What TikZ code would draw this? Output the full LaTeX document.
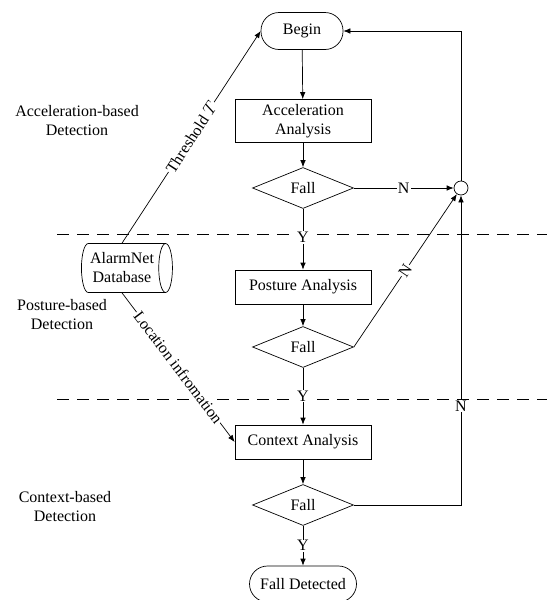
\documentclass[tikz,border=0pt]{standalone}
\usepackage{fontspec}
\setmainfont{Liberation Serif}
\usetikzlibrary{shapes.geometric,arrows.meta}

\begin{document}
\begin{tikzpicture}[
    x=1pt, y=-1pt,
    >={Latex[length=7pt,width=5.5pt]},
    line width=0.7pt,
    font=\fontsize{16}{19}\selectfont,
    terminal/.style={rectangle, draw, rounded corners=18pt, minimum width=82pt, minimum height=37pt},
    process/.style={rectangle, draw, minimum width=136pt, minimum height=34pt, align=center},
    decision/.style={diamond, draw, minimum width=101pt, minimum height=41pt, inner sep=0pt, aspect=2.5},
    junction/.style={circle, draw, minimum size=14pt, inner sep=0pt},
    database/.style={cylinder, draw, shape aspect=0.4, minimum width=49pt, minimum height=91pt, align=center, inner sep=2pt},
    stage/.style={align=center},
    lbl/.style={fill=white, inner sep=1pt},
    boundary/.style={dash pattern=on 12pt off 8pt}
]
\useasboundingbox (0,0) rectangle (547,600);

\node[terminal] (begin) at (302,31) {Begin};
\node[process, minimum height=43pt] (accel) at (303,121) {Acceleration\\Analysis};
\node[decision] (fall1) at (303,188) {Fall};
\node[junction] (merge) at (461,188) {};
\node[process] (posture) at (303,287) {Posture Analysis};
\node[decision] (fall2) at (303,347) {Fall};
\node[process] (context) at (303,442) {Context Analysis};
\node[decision] (fall3) at (303,505) {Fall};
\node[terminal, minimum width=107pt, minimum height=36pt] (detected) at (303,584) {Fall Detected};
\node[database] (db) at (122,268) {AlarmNet\\Database};

\node[stage] (accstage) at (77,121) {Acceleration-based\\Detection};
\node[stage] (posstage) at (62,315) {Posture-based\\Detection};
\node[stage] (ctxstage) at (65,507) {Context-based\\Detection};

% stage boundaries
\coordinate (b1w) at (57,234);
\coordinate (b1e) at (547,234);
\coordinate (b2w) at (57,399);
\coordinate (b2e) at (547,399);
\draw[boundary] (b1w) -- (b1e);
\draw[boundary] (b2w) -- (b2e);

% flow
\draw[->] (begin) -- (accel);
\draw[->] (accel) -- (fall1);
\draw[->] (fall1) -- (merge) node[midway, lbl] {N};
\draw[->] (merge.north) |- (begin.east);
\draw[->] (fall1) -- (posture) node[pos=0.47, lbl] {Y};
\draw[->] (posture) -- (fall2);
\draw[->] (fall2.east) -- (merge) node[midway, sloped, lbl] {N};
\draw[->] (fall2) -- (context) node[midway, lbl] {Y};
\draw[->] (context) -- (fall3);
\draw[->] (fall3.east) -| (merge.south) node[pos=0.66, lbl] {N};
\draw[->] (fall3) -- (detected) node[midway, lbl] {Y};

% database links
\draw[->] (db.north) -- (begin.west) node[midway, sloped, lbl] {Threshold $T$};
\draw[->] (db.south) -- (context.west) node[midway, sloped, lbl] {Location infromation};

\end{tikzpicture}
\end{document}
